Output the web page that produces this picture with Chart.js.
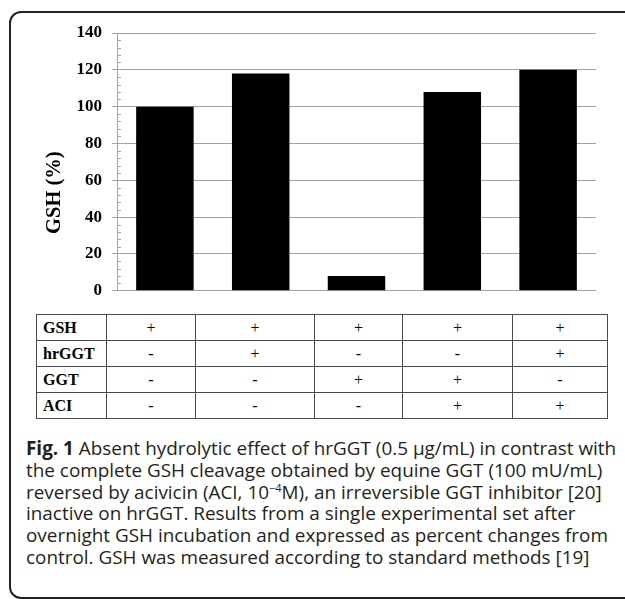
<!DOCTYPE html>
<html>
<head>
<meta charset="utf-8">
<script src="https://cdn.jsdelivr.net/npm/chart.js@4.4.1/dist/chart.umd.min.js"></script>
<style>
  body { margin: 0; background: #fff; width: 625px; height: 599px; overflow: hidden; position: relative; }
  .frame {
    position: absolute; left: 9px; top: 11px; width: 640px; height: 584px;
    border: 2px solid #222; border-radius: 12px;
  }
  .chart-box { position: absolute; left: 0; top: 0; width: 625px; height: 311px; }
  #condTable {
    position: absolute; left: 36px; top: 314px;
    border-collapse: collapse; table-layout: fixed;
    font-family: 'Liberation Serif', 'Times New Roman', serif; font-size: 16px; color: #000;
  }
  #condTable td { border: 1px solid #4a4a4a; height: 25px; padding: 0; text-align: center; }
  #condTable td.name { text-align: left; padding-left: 6px; font-weight: bold; }
  .caption {
    position: absolute; left: 26px; top: 438px; white-space: nowrap;
    font-family: 'Open Sans', sans-serif; font-size: 18.9px; line-height: 21.8px; color: #231f20;
  }
  .caption sup { font-size: 11px; line-height: 0; }
</style>
</head>
<body>
<div class="frame"></div>
<div class="chart-box"><canvas id="gshChart" width="625" height="311"></canvas></div>
<table id="condTable"></table>
<div class="caption">
  <b>Fig. 1</b> Absent hydrolytic effect of hrGGT (0.5 µg/mL) in contrast with<br>
  the complete GSH cleavage obtained by equine GGT (100 mU/mL)<br>
  reversed by acivicin (ACI, 10<sup>−4</sup>M), an irreversible GGT inhibitor [20]<br>
  inactive on hrGGT. Results from a single experimental set after<br>
  overnight GSH incubation and expressed as percent changes from<br>
  control. GSH was measured according to standard methods [19]
</div>
<script>
// conditions (bars) and GSH remaining, % of control
const conditions = ['GSH', 'GSH + hrGGT', 'GSH + GGT', 'GSH + GGT + ACI', 'GSH + hrGGT + ACI'];
const gshPercent = [100, 118, 8, 108, 120];

const yMin = 0;
const yMax = 140;
const yStep = 20;
const yMinorStep = 4;

// table under the chart
const rowNames = ['GSH', 'hrGGT', 'GGT', 'ACI'];
const gshRow = ['+', '+', '+', '+', '+'];
const hrggtRow = ['-', '+', '-', '-', '+'];
const ggtRow = ['-', '-', '+', '+', '-'];
const aciRow = ['-', '-', '-', '+', '+'];
const colWidths = [70, 89, 119, 88, 110, 95];

const gridGray = '#a3a3a3';
const serif = "'Liberation Serif', 'Times New Roman', serif";

// small inward ticks on the y axis between the labelled ones
const minorTicks = {
  id: 'minorTicks',
  afterDraw(chart) {
    const y = chart.scales.y;
    const x0 = chart.chartArea.left;
    const ctx = chart.ctx;
    ctx.save();
    ctx.strokeStyle = gridGray;
    ctx.lineWidth = 1;
    ctx.beginPath();
    for (let v = yMin; v <= yMax; v += yMinorStep) {
      if (v % yStep === 0) continue;
      const py = Math.round(y.getPixelForValue(v)) + 0.5;
      ctx.moveTo(x0, py);
      ctx.lineTo(x0 + 4, py);
    }
    ctx.stroke();
    ctx.restore();
  },
};

new Chart(document.getElementById('gshChart'), {
  type: 'bar',
  data: {
    labels: conditions,
    datasets: [
      {
        label: 'GSH (%)',
        data: gshPercent,
        backgroundColor: '#000',
        categoryPercentage: 1,
        barPercentage: 0.6,
      },
    ],
  },
  options: {
    responsive: false,
    animation: false,
    layout: { padding: { left: 42, top: 33, right: 29, bottom: 0 } },
    plugins: { legend: { display: false }, tooltip: { enabled: false } },
    scales: {
      x: { display: false },
      y: {
        min: yMin,
        max: yMax,
        ticks: { stepSize: yStep, color: '#000', padding: 10, font: { family: serif, size: 17, weight: 'bold' } },
        grid: { color: gridGray, tickColor: gridGray, tickLength: 5 },
        border: { color: gridGray },
        title: {
          display: true,
          // trailing spaces push the title a little below the axis middle, as in the original
          text: 'GSH (%)            ',
          color: '#000',
          padding: 0,
          font: { family: serif, size: 20.5, weight: 'bold' },
        },
        afterFit(scale) {
          scale.width = 75;
        },
      },
    },
  },
  plugins: [minorTicks],
});

// build the condition table from the row arrays
const table = document.getElementById('condTable');
const colgroup = document.createElement('colgroup');
colWidths.forEach((w) => {
  const c = document.createElement('col');
  c.style.width = w + 'px';
  colgroup.appendChild(c);
});
table.appendChild(colgroup);
[gshRow, hrggtRow, ggtRow, aciRow].forEach((row, i) => {
  const tr = document.createElement('tr');
  tr.innerHTML = `<td class="name">${rowNames[i]}</td>` + row.map((s) => `<td>${s}</td>`).join('');
  table.appendChild(tr);
});
</script>
</body>
</html>
